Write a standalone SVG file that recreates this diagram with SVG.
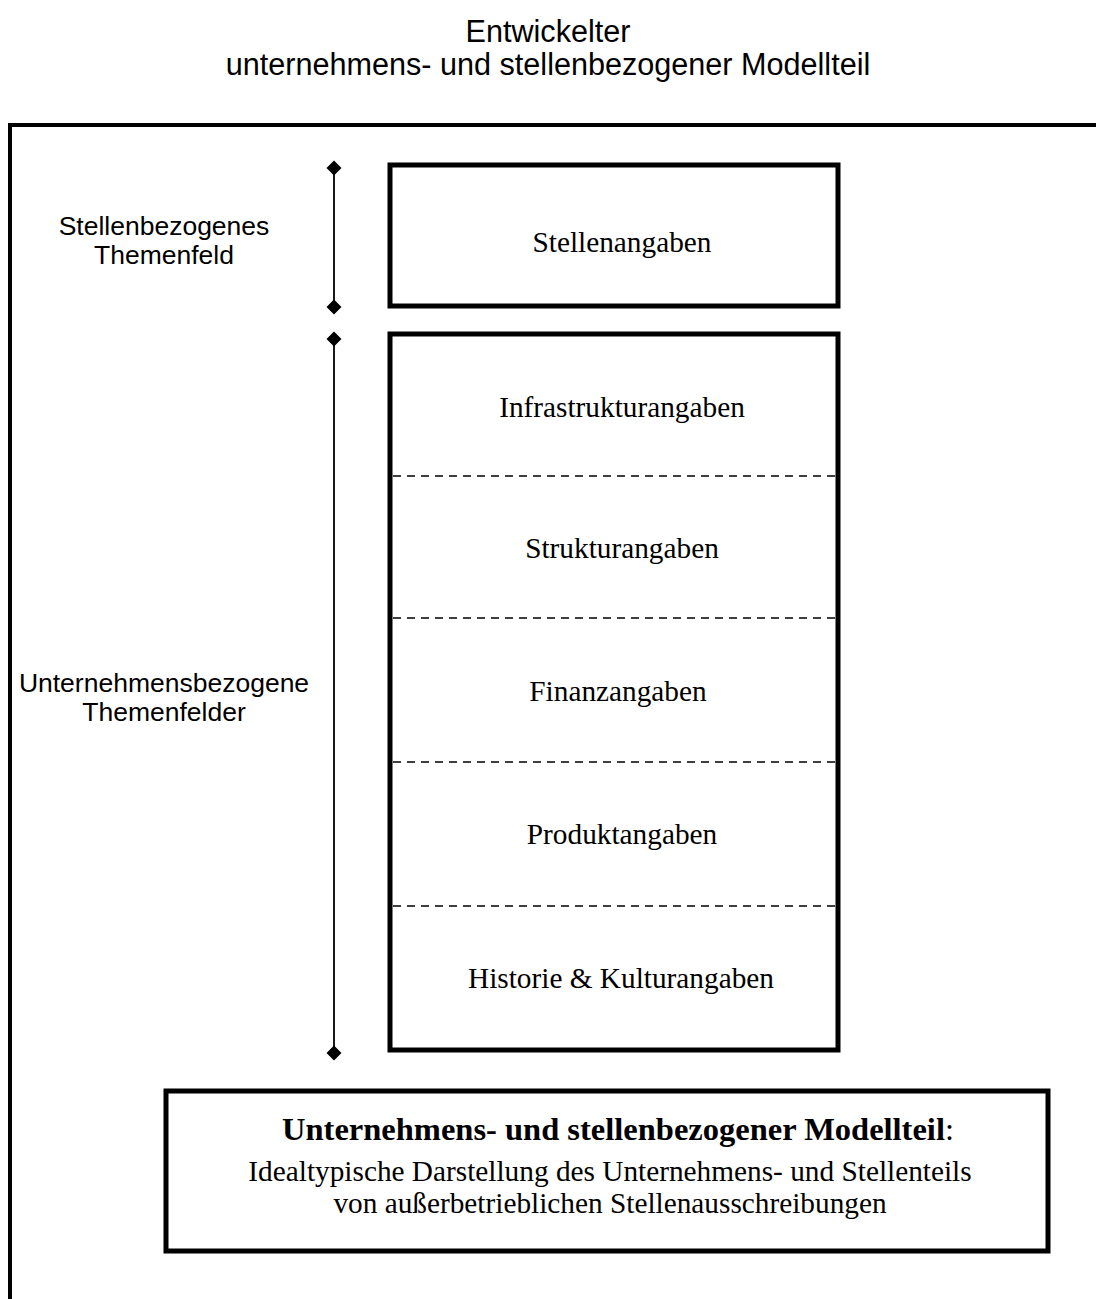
<svg xmlns="http://www.w3.org/2000/svg" width="1096" height="1299" viewBox="0 0 1096 1299">
<defs>
<style>
.title{font-family:"Liberation Sans",Arial,sans-serif;font-size:30.6px;fill:#000;text-anchor:middle}
.lbl{font-family:"Liberation Sans",Arial,sans-serif;font-size:26.5px;fill:#000;text-anchor:middle}
.box{fill:#fff;stroke:#000;stroke-width:5}
.txt{font-family:"Liberation Serif","Times New Roman",serif;font-size:29.3px;fill:#000;text-anchor:middle}
.btxt{font-family:"Liberation Serif","Times New Roman",serif;font-size:32.5px;fill:#000;text-anchor:middle}
.dash{stroke:#000;stroke-width:1.6;stroke-dasharray:8 6;fill:none}
.span{stroke:#000;stroke-width:1.8;fill:none}
</style>
<marker id="dia" viewBox="-8 -8 16 16" markerWidth="16" markerHeight="16" markerUnits="userSpaceOnUse" refX="0" refY="0" orient="auto">
<path d="M0,-7.5 L7.5,0 L0,7.5 L-7.5,0 Z" fill="#000"/>
</marker>
</defs>
<rect width="1096" height="1299" fill="#fff"/>
<g id="title">
<text class="title" x="548" y="42">Entwickelter</text>
<text class="title" x="548" y="75">unternehmens- und stellenbezogener Modellteil</text>
</g>
<g id="frame">
<path d="M10,1299 V125 H1096" fill="none" stroke="#000" stroke-width="4"/>
</g>
<g id="label-stellen">
<text class="lbl" x="164" y="235">Stellenbezogenes</text>
<text class="lbl" x="164" y="264">Themenfeld</text>
</g>
<g id="label-unternehmen">
<text class="lbl" x="164" y="692">Unternehmensbezogene</text>
<text class="lbl" x="164" y="721">Themenfelder</text>
</g>
<g id="connectors">
<line class="span" x1="334" y1="168" x2="334" y2="307" marker-start="url(#dia)" marker-end="url(#dia)"/>
<line class="span" x1="334" y1="339" x2="334" y2="1053" marker-start="url(#dia)" marker-end="url(#dia)"/>
</g>
<g id="stellenangaben">
<rect class="box" x="390" y="165" width="448" height="141"/>
<text class="txt" x="622" y="252">Stellenangaben</text>
</g>
<g id="unternehmensangaben">
<rect class="box" x="390" y="334" width="448" height="716"/>
<line class="dash" x1="393" y1="476" x2="835" y2="476"/>
<line class="dash" x1="393" y1="618" x2="835" y2="618"/>
<line class="dash" x1="393" y1="762" x2="835" y2="762"/>
<line class="dash" x1="393" y1="906" x2="835" y2="906"/>
<text class="txt" x="622" y="417">Infrastrukturangaben</text>
<text class="txt" x="622" y="558">Strukturangaben</text>
<text class="txt" x="618" y="701">Finanzangaben</text>
<text class="txt" x="622" y="844">Produktangaben</text>
<text class="txt" x="621" y="988">Historie &amp; Kulturangaben</text>
</g>
<g id="modellteil">
<rect class="box" x="166" y="1091" width="882" height="160"/>
<text class="btxt" x="618" y="1140"><tspan font-weight="bold">Unternehmens- und stellenbezogener Modellteil</tspan>:</text>
<text class="txt" x="610" y="1181">Idealtypische Darstellung des Unternehmens- und Stellenteils</text>
<text class="txt" x="610" y="1213">von außerbetrieblichen Stellenausschreibungen</text>
</g>
</svg>
